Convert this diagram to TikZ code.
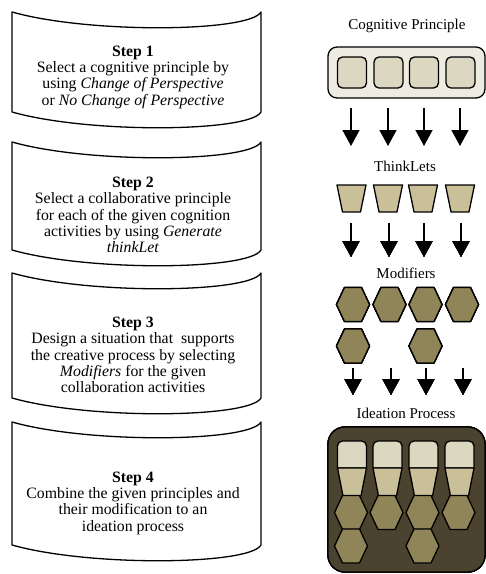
\documentclass[tikz,border=0pt]{standalone}
\usepackage{fontspec}
\setmainfont{Liberation Serif}
\usetikzlibrary{arrows.meta}
\definecolor{pale}{HTML}{EEEBE0}
\definecolor{sqc}{HTML}{DCD7C1}
\definecolor{trapc}{HTML}{C9BF99}
\definecolor{hexc}{HTML}{8F8558}
\definecolor{darkc}{HTML}{4B4330}
\newcommand\mybanner[2]{\draw[outl] (12,#1) .. controls (90,#1+22) and (250,#1+20) .. (261,#1) -- (261,#2) .. controls (250,#2+20) and (90,#2+22) .. (12,#2) -- cycle;}
\newcommand\myhex[2]{\draw[outl, fill=hexc] (#1-16.5,#2) -- (#1-8.5,#2-17) -- (#1+8.5,#2-17) -- (#1+16.5,#2) -- (#1+8.5,#2+17) -- (#1-8.5,#2+17) -- cycle;}
\newcommand\mytrap[3]{\draw[outl, fill=trapc] (#1-14.5,#2) -- (#1+14.5,#2) -- (#1+9,#3) -- (#1-9,#3) -- cycle;}
\newcommand\mytopsq[1]{\draw[outl, fill=sqc] (#1-14.5,468) [rounded corners=5] -- (#1-14.5,441) -- (#1+14.5,441) [sharp corners] -- (#1+14.5,468) -- cycle;}
\begin{document}
\begin{tikzpicture}[x=1pt,y=-1pt,
  outl/.style={draw=black, line width=1.3pt, line join=round},
  steptext/.style={align=center, font=\fontsize{15.8}{16.3}\selectfont, inner sep=0pt},
  title/.style={font=\fontsize{15}{16}\selectfont, inner sep=0pt},
  arr/.style={line width=1.4pt, -{Triangle[width=17pt,length=16pt]}}]
\useasboundingbox (0,0) rectangle (486,574);
% left steps
\mybanner{12}{112}
\mybanner{142}{250}
\mybanner{273}{398}
\mybanner{422}{545}
\node[steptext] (s1) at (133,77) {\textbf{Step 1}\\Select a cognitive principle by\\using \textit{Change of Perspective}\\or \textit{No Change of Perspective}};
\node[steptext] (s2) at (133,215) {\textbf{Step 2}\\Select a collaborative principle\\for each of the given cognition\\activities by using \textit{Generate}\\\textit{thinkLet}};
\node[steptext] (s3) at (133,355) {\textbf{Step 3}\\Design a situation that\ \ supports\\the creative process by selecting\\\textit{Modifiers} for the given\\collaboration activities};
\node[steptext] (s4) at (133,503) {\textbf{Step 4}\\Combine the given principles and\\their modification to an\\ideation process};
% right panel titles
\node[title] (t1) at (407,26) {Cognitive Principle};
\node[title] (t2) at (405,166) {ThinkLets};
\node[title] (t3) at (406,273) {Modifiers};
\node[title] (t4) at (406,413) {Ideation Process};
% cognitive principle block
\draw[outl, fill=pale, rounded corners=9] (328,47) rectangle (485,98);
\foreach \x in {352,388.5,424,460.5}
  \draw[outl, fill=sqc, rounded corners=5] (\x-14.5,57) rectangle (\x+14.5,88);
% arrows row 1
\foreach \x [count=\i] in {351,388,424,460}{
  \coordinate (a\i s) at (\x,108);
  \coordinate (a\i e) at (\x,146);
  \draw[arr] (a\i s) -- (a\i e);
}
% thinklets
\foreach \x in {351.5,388,423,460}
  \mytrap{\x}{185}{212}
% arrows row 2
\foreach \x [count=\i] in {351,389,424,461}{
  \coordinate (b\i s) at (\x,223);
  \coordinate (b\i e) at (\x,257);
  \draw[arr] (b\i s) -- (b\i e);
}
% modifiers
\myhex{353}{304.5}
\myhex{389.5}{304.5}
\myhex{425.5}{304.5}
\myhex{462}{304.5}
\myhex{353}{346}
\myhex{425.5}{346}
% arrows row 3
\foreach \x [count=\i] in {353,391,426,463}{
  \coordinate (c\i s) at (\x,368);
  \coordinate (c\i e) at (\x,395);
  \draw[arr] (c\i s) -- (c\i e);
}
% ideation process
\draw[outl, fill=darkc, rounded corners=17] (328,427) rectangle (485,572);
\foreach \x in {352,387.5,423.5,459.5}{
  \mytopsq{\x}
  \mytrap{\x}{468}{496}
  \myhex{\x-1}{512.5}
}
\myhex{351}{546}
\myhex{422.5}{546}
\end{tikzpicture}
\end{document}
